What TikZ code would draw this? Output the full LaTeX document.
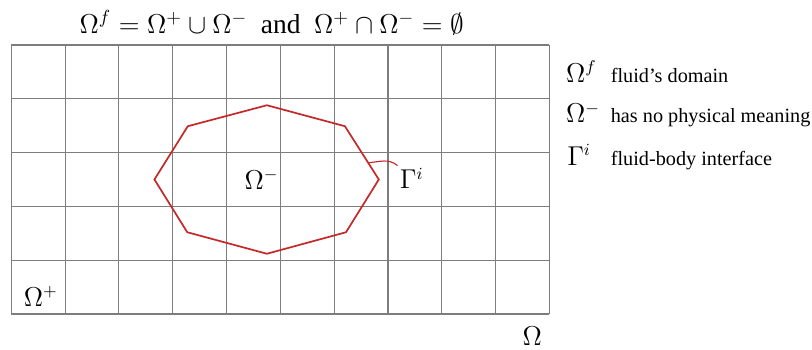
\documentclass[tikz,border=0pt]{standalone}
\usepackage{fontspec}
\setmainfont{Liberation Serif}
\definecolor{gridgray}{RGB}{125,125,125}
\definecolor{ifred}{RGB}{196,40,40}
\newcommand{\symfont}{\fontsize{13.5}{16}\selectfont}
\newcommand{\legfont}{\rmfamily\fontsize{10.7}{13}\selectfont}
\newcommand{\titlefont}{\rmfamily\fontsize{14.5}{17}\selectfont}
\usetikzlibrary{calc}

\begin{document}
\begin{tikzpicture}[inner sep=1pt]
\useasboundingbox (-0.21,-0.65) rectangle (14.88,5.836);
\draw[gridgray,line width=0.6pt] (0,0) grid (10,5);
% fluid-body interface
\draw[ifred,line width=0.9pt] (4.75,3.88) -- (6.2,3.49) -- (6.83,2.5) -- (6.22,1.52) -- (4.75,1.12) -- (3.27,1.52) -- (2.66,2.5) -- (3.28,3.49) -- cycle;
\coordinate (gp) at (6.63,2.81);
\node[font=\symfont] (om) at (4.65,2.5) {$\Omega^-$};
\node[font=\symfont] (gam) at (7.44,2.52) {$\Gamma^i$};
\draw[ifred,line width=0.6pt] (gp) to[out=5,in=140] (gam.north west);
\node[font=\symfont] (op) at (0.55,0.33) {$\Omega^+$};
\node[font=\symfont] (omg) at (9.68,-0.41) {$\Omega$};
\node[font=\titlefont,anchor=base] (eq) at (4.84,5.22) {$\Omega^f=\Omega^+\cup\Omega^-$\ \ and\ \ $\Omega^+\cap\Omega^-=\emptyset$};
% legend
\node[font=\symfont,anchor=base west] (lf) at (10.27,4.31) {$\Omega^f$};
\node[font=\legfont,anchor=base west] (lft) at (11.1,4.31) {fluid’s domain};
\node[font=\symfont,anchor=base west] (lm) at (10.27,3.55) {$\Omega^-$};
\node[font=\legfont,anchor=base west] (lmt) at (11.1,3.55) {has no physical meaning};
\node[font=\symfont,anchor=base west] (lg) at (10.29,2.76) {$\Gamma^i$};
\node[font=\legfont,anchor=base west] (lgt) at (11.1,2.76) {fluid-body interface};
\end{tikzpicture}
\end{document}
